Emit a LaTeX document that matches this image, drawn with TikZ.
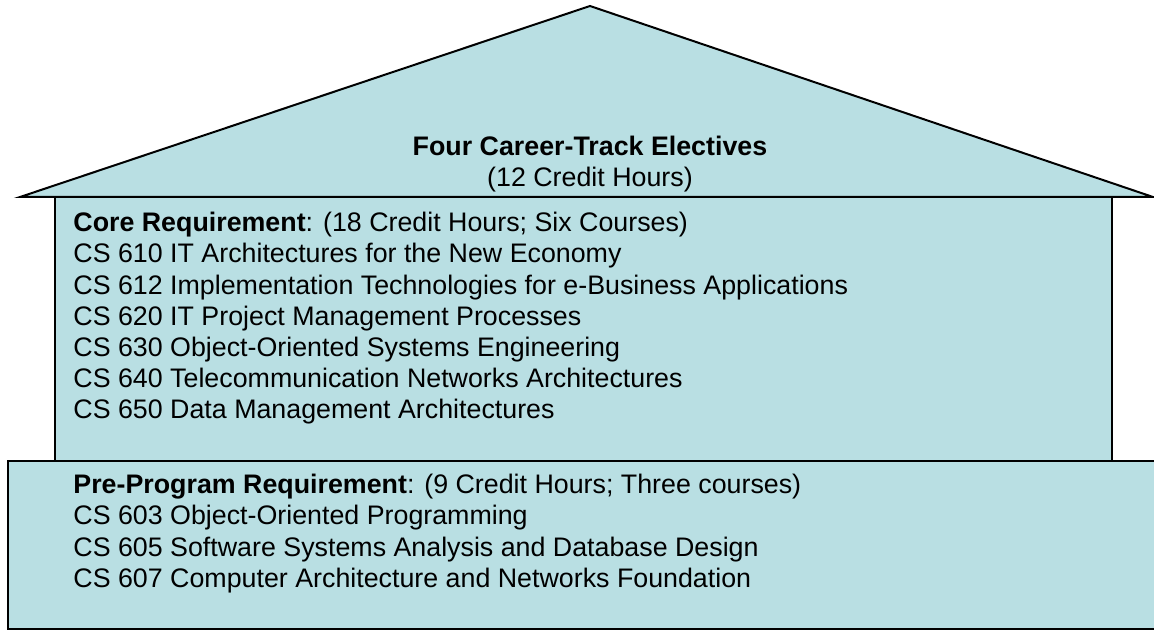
\documentclass[tikz,border=0pt]{standalone}
\usepackage{fontspec}
\setmainfont{Liberation Sans}
\usepackage{tikz}
\definecolor{houseblue}{RGB}{185,223,227}
\tikzstyle{part} = [draw=black, line width=1pt, fill=houseblue, line join=miter]
\tikzstyle{courses} = [anchor=north west, align=left, inner sep=0pt, font=\fontsize{13.4}{15.55}\selectfont]
\tikzstyle{rooftext} = [align=center, inner sep=0pt, font=\fontsize{13.4}{15.55}\selectfont]

\begin{document}
\begin{tikzpicture}[x=0.5pt, y=-0.5pt]
  \useasboundingbox (0,0) rectangle (1154,630);
  % roof, walls and foundation
  \draw[part] (20,197) -- (590,6) -- (1153,197) -- cycle;
  \draw[part] (55,197) rectangle (1112,461);
  \draw[part] (8,461) rectangle (1175,629);

  \node (roof) [rooftext] at (590,164) {\textbf{Four Career-Track Electives}\\(12 Credit Hours)};
  \node (core) [courses] at (73,212) {\textbf{Core Requirement}: (18 Credit Hours; Six Courses)\\
    CS 610 IT Architectures for the New Economy\\
    CS 612 Implementation Technologies for e-Business Applications\\
    CS 620 IT Project Management Processes\\
    CS 630 Object-Oriented Systems Engineering\\
    CS 640 Telecommunication Networks Architectures\\
    CS 650 Data Management Architectures};
  \node (pre) [courses] at (73,474) {\textbf{Pre-Program Requirement}: (9 Credit Hours; Three courses)\\
    CS 603 Object-Oriented Programming\\
    CS 605 Software Systems Analysis and Database Design\\
    CS 607 Computer Architecture and Networks Foundation};
\end{tikzpicture}
\end{document}
